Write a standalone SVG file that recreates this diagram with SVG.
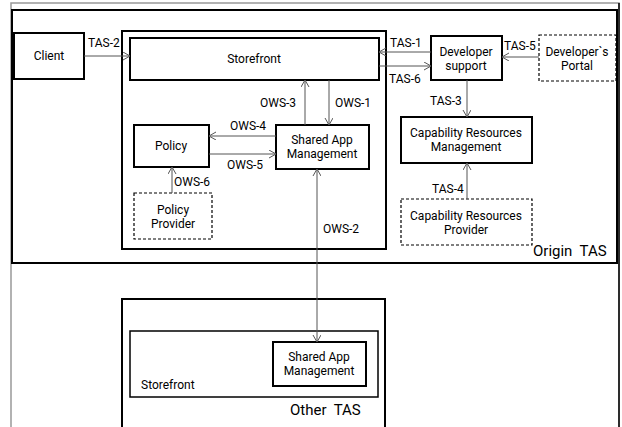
<svg xmlns="http://www.w3.org/2000/svg" width="622" height="427" viewBox="0 0 622 427">
<style>
text{font-family:Roboto,"Liberation Sans",sans-serif;font-size:12px;fill:#000}
.c{text-anchor:middle}
.big{font-size:15px}
.box{fill:#fff;stroke:#000;stroke-width:2}
.thin{fill:#fff;stroke:#000;stroke-width:1.5}
.dash{fill:#fff;stroke:#000;stroke-width:1.2;stroke-dasharray:3,2}
.ln{stroke:#555;stroke-width:1;fill:none}
</style>
<defs>
<marker id="ah" markerWidth="10" markerHeight="10" refX="7" refY="4" orient="auto" markerUnits="userSpaceOnUse">
<path d="M0,0 L7,4 L0,8" fill="none" stroke="#555" stroke-width="1"/>
</marker>
<marker id="as" markerWidth="10" markerHeight="10" refX="0" refY="4" orient="auto" markerUnits="userSpaceOnUse">
<path d="M7,0 L0,4 L7,8" fill="none" stroke="#555" stroke-width="1"/>
</marker>
</defs>
<rect width="622" height="427" fill="#fff"/>
<g id="frame">
<path d="M11,430 V3 H619 V430" fill="none" stroke="#999" stroke-width="1.5"/>
<path d="M619,3 V430" stroke="#000" stroke-width="1.5"/>
</g>
<g id="origin-tas">
<rect class="box" x="12" y="10" width="605" height="253"/>
<text class="big" x="533" y="256">Origin&#160; TAS</text>
</g>
<g id="origin-container">
<rect class="box" x="122" y="31" width="264" height="218"/>
</g>
<g id="client"><rect class="box" x="14" y="33" width="70" height="46"/><text class="c" x="49" y="60">Client</text></g>
<g id="storefront"><rect class="box" x="130" y="38" width="249" height="42"/><text class="c" x="254" y="63">Storefront</text></g>
<g id="shared-app"><rect class="box" x="276" y="125" width="93" height="44"/><text class="c" x="322" y="144">Shared App</text><text class="c" x="322" y="158">Management</text></g>
<g id="policy"><rect class="box" x="134" y="125" width="75" height="42"/><text class="c" x="171" y="150">Policy</text></g>
<g id="policy-provider"><rect class="dash" x="134" y="193" width="78" height="46"/><text class="c" x="173" y="214">Policy</text><text class="c" x="173" y="228">Provider</text></g>
<g id="developer-support"><rect class="box" x="431" y="36" width="71" height="44"/><text class="c" x="466" y="56">Developer</text><text class="c" x="466" y="70">support</text></g>
<g id="developer-portal"><rect class="dash" x="539" y="35" width="77" height="46"/><text class="c" x="577" y="56">Developer`s</text><text class="c" x="577" y="70">Portal</text></g>
<g id="cap-mgmt"><rect class="box" x="401" y="117" width="131" height="46"/><text class="c" x="466" y="137">Capability Resources</text><text class="c" x="466" y="151">Management</text></g>
<g id="cap-provider"><rect class="dash" x="401" y="199" width="131" height="46"/><text class="c" x="466" y="220">Capability Resources</text><text class="c" x="466" y="234">Provider</text></g>
<g id="other-tas">
<path class="box" d="M122,430 V299 H385 V430" fill="none"/>
<text class="big" x="290" y="415">Other&#160; TAS</text>
</g>
<g id="other-storefront"><rect class="thin" x="130" y="331" width="248" height="66"/><text x="141" y="389">Storefront</text></g>
<g id="other-shared-app"><rect class="box" x="273" y="342" width="93" height="44"/><text class="c" x="319" y="361">Shared App</text><text class="c" x="319" y="375">Management</text></g>
<g id="connectors">
<line class="ln" x1="84" y1="56" x2="130" y2="56" marker-end="url(#ah)"/>
<line class="ln" x1="305" y1="125" x2="305" y2="80" marker-end="url(#ah)"/>
<line class="ln" x1="329" y1="80" x2="329" y2="125" marker-end="url(#ah)"/>
<line class="ln" x1="276" y1="136" x2="209" y2="136" marker-end="url(#ah)"/>
<line class="ln" x1="209" y1="154" x2="276" y2="154" marker-end="url(#ah)"/>
<line class="ln" x1="172" y1="193" x2="172" y2="167" marker-end="url(#ah)"/>
<line class="ln" x1="317" y1="169" x2="317" y2="342" marker-start="url(#as)" marker-end="url(#ah)"/>
<line class="ln" x1="431" y1="52" x2="379" y2="52" marker-end="url(#ah)"/>
<line class="ln" x1="379" y1="66" x2="431" y2="66" marker-end="url(#ah)"/>
<line class="ln" x1="539" y1="57" x2="502" y2="57" marker-end="url(#ah)"/>
<line class="ln" x1="467" y1="80" x2="467" y2="117" marker-end="url(#ah)"/>
<line class="ln" x1="467" y1="199" x2="467" y2="163" marker-end="url(#ah)"/>
<text x="88" y="47">TAS-2</text>
<text x="260" y="107">OWS-3</text>
<text x="335" y="107">OWS-1</text>
<text x="230" y="130">OWS-4</text>
<text x="227" y="169">OWS-5</text>
<text x="174" y="186">OWS-6</text>
<text x="323" y="233">OWS-2</text>
<text x="390" y="47">TAS-1</text>
<text x="389" y="83">TAS-6</text>
<text x="504" y="50">TAS-5</text>
<text x="430" y="105">TAS-3</text>
<text x="432" y="193">TAS-4</text>
</g>
</svg>
